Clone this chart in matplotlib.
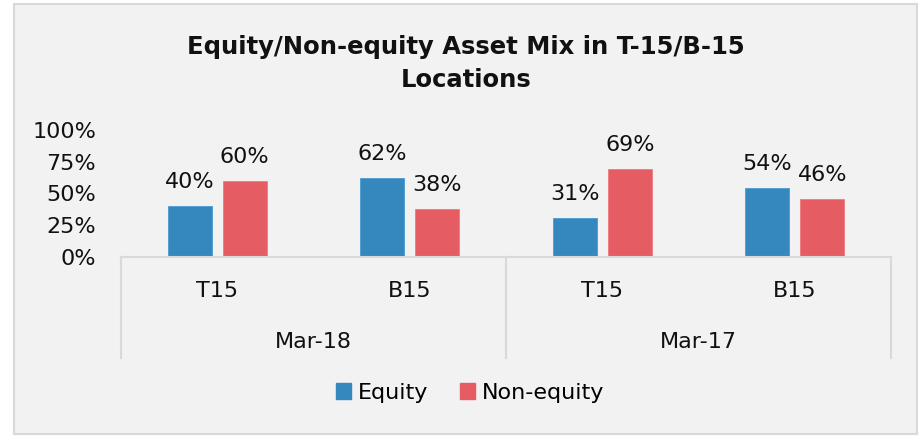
import matplotlib.pyplot as plt
from matplotlib.patches import Rectangle
from matplotlib.lines import Line2D

groups = ["Mar-18", "Mar-17"]
locations = ["T15", "B15", "T15", "B15"]
equity = [40, 62, 31, 54]
non_equity = [60, 38, 69, 46]
series_names = ["Equity", "Non-equity"]
yticks = [0, 25, 50, 75, 100]

blue = "#3488be"
red = "#e55c63"
bg = "#f2f2f2"
edge = "#d9d9d9"

plt.rcParams['font.family'] = ['DejaVu Sans']

W, H = 920, 437
fig = plt.figure(figsize=(W / 100, H / 100), dpi=100, facecolor="white")

# chart area box
fig.patches.append(Rectangle((14 / W, 1 - 434 / H), (917 - 14) / W, (434 - 4) / H,
                             transform=fig.transFigure, facecolor=bg,
                             edgecolor=edge, linewidth=1.5, zorder=-5))

ax = fig.add_axes([121 / W, 1 - 257 / H, 770 / W, 127 / H])
ax.set_facecolor("none")
ax.set_zorder(2)

x = list(range(len(locations)))
bw = 0.229
off = 0.143
b1 = ax.bar([i - off for i in x], equity, bw, color=blue, edgecolor="#4a9ad0", linewidth=0.6)
b2 = ax.bar([i + off for i in x], non_equity, bw, color=red, edgecolor="#f07a80", linewidth=0.6)

for bars, vals in ((b1, equity), (b2, non_equity)):
    for r, v in zip(bars, vals):
        ax.annotate(f"{v}%", (r.get_x() + r.get_width() / 2, v),
                    xytext=(0, 13), textcoords="offset points",
                    ha="center", va="baseline", fontsize=16, color="#111111")

ax.set_xlim(-0.5, 3.5)
ax.set_ylim(0, 100)
ax.set_yticks(yticks)
ax.set_yticklabels([f"{t}%" for t in yticks], fontsize=16, color="#111111")
ax.tick_params(axis="y", length=0, pad=18)
ax.set_xticks([])
for s in ax.spines.values():
    s.set_visible(False)

# multi-level category axis
ybot = -101 / 127 * 100
ax.add_line(Line2D([-0.5, 3.5], [0, 0], color=edge, lw=1.5, clip_on=False))
for xv in (-0.5, 1.5, 3.5):
    ax.add_line(Line2D([xv, xv], [0, ybot], color=edge, lw=1.5, clip_on=False))
for i, lab in enumerate(locations):
    ax.text(i, -34 / 127 * 100, lab, ha="center", va="center", fontsize=16,
            color="#111111", clip_on=False)
for j, g in enumerate(groups):
    ax.text(0.5 + 2 * j, -85 / 127 * 100, g, ha="center", va="center", fontsize=16,
            color="#111111", clip_on=False)

fig.text(466 / W, 1 - 47 / H, "Equity/Non-equity Asset Mix in T-15/B-15",
         ha="center", va="center", fontsize=17.5, fontweight="bold", color="#111111")
fig.text(466 / W, 1 - 80 / H, "Locations",
         ha="center", va="center", fontsize=17.5, fontweight="bold", color="#111111")

handles = [Rectangle((0, 0), 1, 1, color=blue), Rectangle((0, 0), 1, 1, color=red)]
fig.legend(handles, series_names, loc="center", bbox_to_anchor=(470 / W, 1 - 393 / H),
           ncol=2, frameon=False, fontsize=16, handlelength=0.7, handleheight=0.7,
           handletextpad=0.3, columnspacing=1.4)

fig.savefig("out.png", dpi=100, facecolor="white")
